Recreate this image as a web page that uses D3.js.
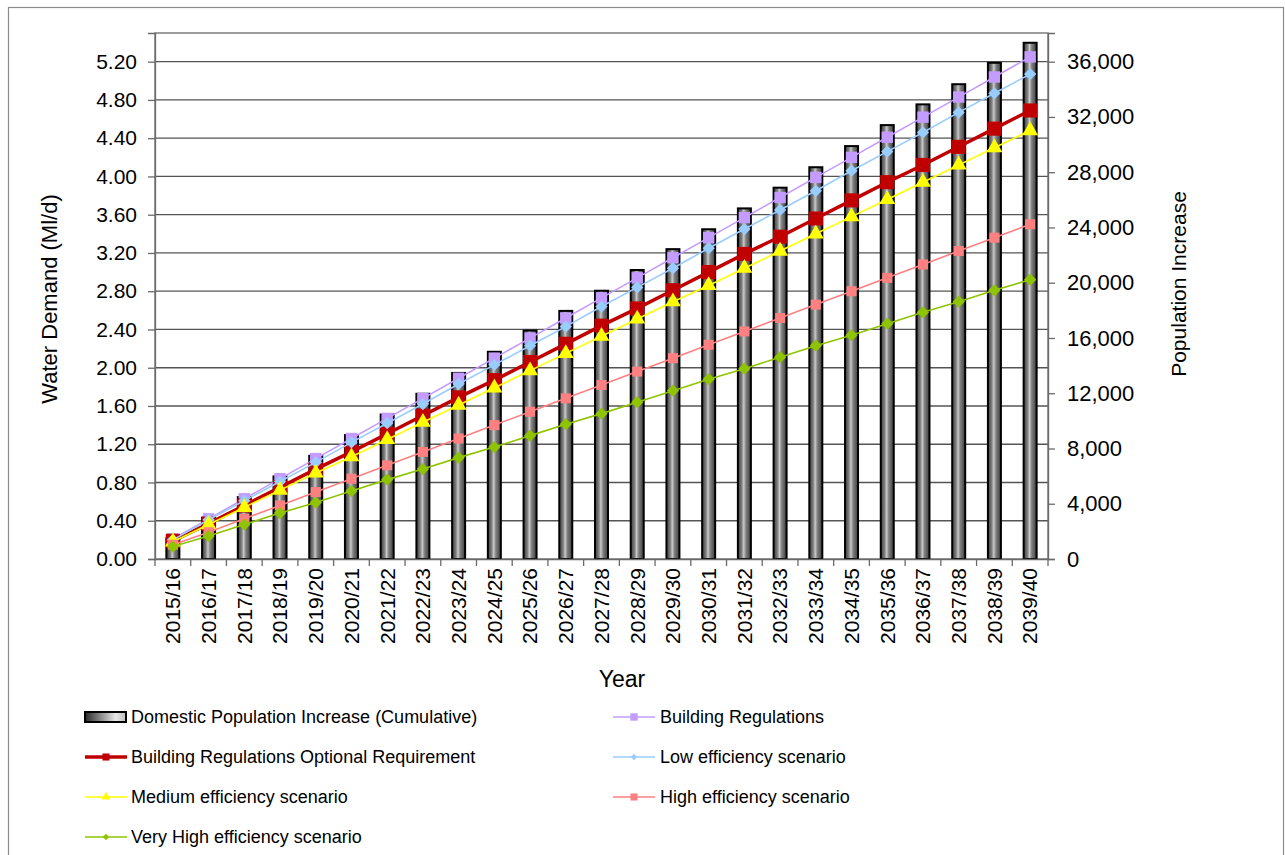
<!DOCTYPE html>
<html>
<head>
<meta charset="utf-8">
<script src="https://cdn.jsdelivr.net/npm/d3@7"></script>
<style>
  body { margin: 0; background: #fff; }
  svg text { font-family: "Liberation Sans", Arial, sans-serif; fill: #000; }
</style>
</head>
<body>
<div id="chart"></div>
<script>

// categories (financial years)
var years = ["2015/16","2016/17","2017/18","2018/19","2019/20","2020/21","2021/22","2022/23",
  "2023/24","2024/25","2025/26","2026/27","2027/28","2028/29","2029/30","2030/31","2031/32",
  "2032/33","2033/34","2034/35","2035/36","2036/37","2037/38","2038/39","2039/40"];

// bars - right axis
var popIncrease = [1490, 2990, 4480, 5980, 7470, 8970, 10460, 11960, 13470, 15000, 16540, 17960,
  19420, 20920, 22430, 23870, 25380, 26880, 28360, 29890, 31410, 32910, 34370, 35920, 37370];

// lines - left axis (Ml/d)
var buildingRegs = [0.21, 0.42, 0.63, 0.84, 1.05, 1.26, 1.47, 1.68, 1.89, 2.10, 2.31, 2.52, 2.73,
  2.94, 3.15, 3.36, 3.57, 3.78, 3.99, 4.20, 4.41, 4.62, 4.83, 5.04, 5.25];
var optionalReq = [0.19, 0.37, 0.56, 0.75, 0.94, 1.12, 1.31, 1.50, 1.69, 1.87, 2.06, 2.25, 2.44,
  2.62, 2.81, 3.00, 3.19, 3.37, 3.56, 3.75, 3.94, 4.12, 4.31, 4.50, 4.69];
var lowEff = [0.20, 0.41, 0.61, 0.81, 1.01, 1.22, 1.42, 1.62, 1.83, 2.03, 2.23, 2.43, 2.64,
  2.84, 3.04, 3.25, 3.45, 3.65, 3.85, 4.06, 4.26, 4.46, 4.67, 4.87, 5.07];
var mediumEff = [0.18, 0.36, 0.54, 0.72, 0.90, 1.07, 1.25, 1.43, 1.61, 1.79, 1.97, 2.15, 2.33,
  2.51, 2.69, 2.86, 3.04, 3.22, 3.40, 3.58, 3.76, 3.94, 4.12, 4.30, 4.48];
var highEff = [0.15, 0.28, 0.42, 0.56, 0.70, 0.84, 0.98, 1.12, 1.26, 1.40, 1.54, 1.68, 1.82,
  1.96, 2.10, 2.24, 2.38, 2.52, 2.66, 2.80, 2.94, 3.08, 3.22, 3.36, 3.50];
var veryHighEff = [0.13, 0.24, 0.36, 0.48, 0.59, 0.71, 0.83, 0.94, 1.06, 1.17, 1.29, 1.41, 1.52,
  1.64, 1.76, 1.88, 1.99, 2.11, 2.23, 2.34, 2.46, 2.58, 2.69, 2.81, 2.92];

var leftTicks = [0, 0.4, 0.8, 1.2, 1.6, 2.0, 2.4, 2.8, 3.2, 3.6, 4.0, 4.4, 4.8, 5.2];
var rightTicks = [0, 4000, 8000, 12000, 16000, 20000, 24000, 28000, 32000, 36000];

var seriesList = [
  { name: "Building Regulations", values: buildingRegs, color: "#C49CFF", width: 1.6, shape: "square", size: 130, legSize: 55 },
  { name: "Building Regulations Optional Requirement", values: optionalReq, color: "#C00000", width: 3.5, shape: "square", size: 200, legSize: 50 },
  { name: "Low efficiency scenario", values: lowEff, color: "#99CCFF", width: 1.6, shape: "diamond", size: 75, legSize: 20 },
  { name: "Medium efficiency scenario", values: mediumEff, color: "#FFFF00", width: 1.6, shape: "triangle", size: 110, legSize: 35 },
  { name: "High efficiency scenario", values: highEff, color: "#FF8080", width: 1.6, shape: "square", size: 100, legSize: 50 },
  { name: "Very High efficiency scenario", values: veryHighEff, color: "#8FC400", width: 1.6, shape: "diamond", size: 75, legSize: 20 }
];

/////////////////////////////////////////////////////////////////////

var W = 1285, H = 855;
var plot = { left: 155, right: 1048, top: 33, bottom: 559 };

var svg = d3.select("#chart").append("svg")
  .attr("width", W)
  .attr("height", H);

// outer frame
svg.append("rect")
  .attr("x", 8.5).attr("y", 7.5)
  .attr("width", 1275).attr("height", 900)
  .attr("fill", "none")
  .attr("stroke", "#8c8c8c")
  .attr("stroke-width", 1.2);

var defs = svg.append("defs");
var grad = defs.append("linearGradient").attr("id", "barGrad")
  .attr("x1", "0%").attr("x2", "100%").attr("y1", "0%").attr("y2", "0%");
grad.append("stop").attr("offset", "0%").attr("stop-color", "#3c3c3c");
grad.append("stop").attr("offset", "30%").attr("stop-color", "#808080");
grad.append("stop").attr("offset", "45%").attr("stop-color", "#cacaca");
grad.append("stop").attr("offset", "62%").attr("stop-color", "#808080");
grad.append("stop").attr("offset", "100%").attr("stop-color", "#3c3c3c");

var legGrad = defs.append("linearGradient").attr("id", "legGrad")
  .attr("x1", "0%").attr("x2", "100%").attr("y1", "0%").attr("y2", "0%");
legGrad.append("stop").attr("offset", "0%").attr("stop-color", "#2a2a2a");
legGrad.append("stop").attr("offset", "75%").attr("stop-color", "#e6e6e6");
legGrad.append("stop").attr("offset", "100%").attr("stop-color", "#bdbdbd");

var x = d3.scaleBand()
  .domain(years)
  .range([plot.left, plot.right]);

var yLeft = d3.scaleLinear()
  .domain([0, 5.5])
  .range([plot.bottom, plot.top]);

var yRight = d3.scaleLinear()
  .domain([0, 5.5 / 5.2 * 36000])
  .range([plot.bottom, plot.top]);

// gridlines
svg.append("g").selectAll("line")
  .data(leftTicks.filter(function(d) { return d > 0; }))
  .enter().append("line")
  .attr("x1", plot.left).attr("x2", plot.right)
  .attr("y1", function(d) { return yLeft(d); })
  .attr("y2", function(d) { return yLeft(d); })
  .attr("stroke", "#555")
  .attr("stroke-width", 1.3);

// plot area border
svg.append("rect")
  .attr("x", plot.left).attr("y", plot.top)
  .attr("width", plot.right - plot.left)
  .attr("height", plot.bottom - plot.top)
  .attr("fill", "none")
  .attr("stroke", "#6a6a6a")
  .attr("stroke-width", 1.3);

// bars
var barW = 13;
svg.append("g").selectAll("rect")
  .data(popIncrease)
  .enter().append("rect")
  .attr("x", function(d, i) { return x(years[i]) + x.bandwidth() / 2 - barW / 2; })
  .attr("y", function(d) { return yRight(d); })
  .attr("width", barW)
  .attr("height", function(d) { return plot.bottom - yRight(d); })
  .attr("fill", "url(#barGrad)")
  .attr("stroke", "#000")
  .attr("stroke-width", 2);

// axes
var axL = svg.append("g")
  .attr("transform", "translate(" + plot.left + ",0)")
  .call(d3.axisLeft(yLeft).tickValues(leftTicks).tickFormat(d3.format(".2f")).tickSize(7).tickPadding(11));
var axR = svg.append("g")
  .attr("transform", "translate(" + plot.right + ",0)")
  .call(d3.axisRight(yRight).tickValues(rightTicks).tickFormat(d3.format(",")).tickSize(7).tickPadding(12));
var axB = svg.append("g")
  .attr("transform", "translate(0," + plot.bottom + ")")
  .call(d3.axisBottom(x).tickSize(0).tickPadding(9));

[axL, axR, axB].forEach(function(a) {
  a.select(".domain").attr("stroke", "#6a6a6a").attr("stroke-width", 1.3);
  a.selectAll(".tick line").attr("stroke", "#6a6a6a").attr("stroke-width", 1.3);
  a.selectAll("text").attr("font-family", "Liberation Sans, Arial, sans-serif")
    .style("font-size", "21px").attr("fill", "#000");
});
axR.selectAll("text").style("font-size", "22px");

axB.selectAll(".tick text")
  .attr("transform", "rotate(-90)")
  .attr("text-anchor", "end")
  .attr("x", -9)
  .attr("y", 0)
  .attr("dy", "0.35em");

// category separator ticks on x axis
svg.append("g").selectAll("line")
  .data(years.concat(["end"]))
  .enter().append("line")
  .attr("x1", function(d, i) { return i < years.length ? x(d) : plot.right; })
  .attr("x2", function(d, i) { return i < years.length ? x(d) : plot.right; })
  .attr("y1", plot.bottom)
  .attr("y2", plot.bottom + 7)
  .attr("stroke", "#6a6a6a")
  .attr("stroke-width", 1.3);

// lines + markers
function symbolFor(s, size) {
  if (s.shape === "triangle") return d3.symbol().type(d3.symbolTriangle).size(size)();
  return d3.symbol().type(d3.symbolSquare).size(size)();
}

var lineGen = d3.line()
  .x(function(d, i) { return x(years[i]) + x.bandwidth() / 2; })
  .y(function(d) { return yLeft(d); });

seriesList.forEach(function(s) {
  var g = svg.append("g");
  g.append("path")
    .attr("d", lineGen(s.values))
    .attr("fill", "none")
    .attr("stroke", s.color)
    .attr("stroke-width", s.width);
  g.selectAll("path.mk")
    .data(s.values)
    .enter().append("path")
    .attr("class", "mk")
    .attr("d", symbolFor(s, s.size))
    .attr("transform", function(d, i) {
      var t = "translate(" + (x(years[i]) + x.bandwidth() / 2) + "," + yLeft(d) + ")";
      return s.shape === "diamond" ? t + " rotate(45)" : t;
    })
    .attr("fill", s.color);
});

// axis titles
svg.append("text")
  .attr("transform", "translate(57,299) rotate(-90)")
  .attr("text-anchor", "middle")
  .style("font-size", "22px")
  .text("Water Demand  (Ml/d)");

svg.append("text")
  .attr("transform", "translate(1186,284) rotate(-90)")
  .attr("text-anchor", "middle")
  .style("font-size", "21px")
  .text("Population Increase");

svg.append("text")
  .attr("x", 622).attr("y", 687)
  .attr("text-anchor", "middle")
  .style("font-size", "23px")
  .text("Year");

// legend
var legendItems = [
  { name: "Domestic Population Increase (Cumulative)", bar: true, col: 0, row: 0 },
  { s: seriesList[0], col: 1, row: 0 },
  { s: seriesList[1], col: 0, row: 1 },
  { s: seriesList[2], col: 1, row: 1 },
  { s: seriesList[3], col: 0, row: 2 },
  { s: seriesList[4], col: 1, row: 2 },
  { s: seriesList[5], col: 0, row: 3 }
];
var legColX = [85, 613];
var legRowY = [717, 757, 797, 837];

legendItems.forEach(function(it) {
  var gx = legColX[it.col], gy = legRowY[it.row];
  var g = svg.append("g").attr("transform", "translate(" + gx + "," + gy + ")");
  if (it.bar) {
    g.append("rect")
      .attr("x", 0).attr("y", -5)
      .attr("width", 41).attr("height", 10)
      .attr("fill", "url(#legGrad)")
      .attr("stroke", "#000")
      .attr("stroke-width", 2);
  } else {
    var s = it.s;
    g.append("line")
      .attr("x1", 0).attr("x2", 42)
      .attr("y1", 0).attr("y2", 0)
      .attr("stroke", s.color)
      .attr("stroke-width", s.width);
    g.append("path")
      .attr("d", symbolFor(s, s.legSize))
      .attr("transform", "translate(21,0)" + (s.shape === "diamond" ? " rotate(45)" : ""))
      .attr("fill", s.color);
  }
  g.append("text")
    .attr("x", it.col === 0 ? 46 : 47)
    .attr("y", 0)
    .attr("dy", "0.35em")
    .style("font-size", "18px")
    .text(it.bar ? it.name : it.s.name);
});

</script>
</body>
</html>
